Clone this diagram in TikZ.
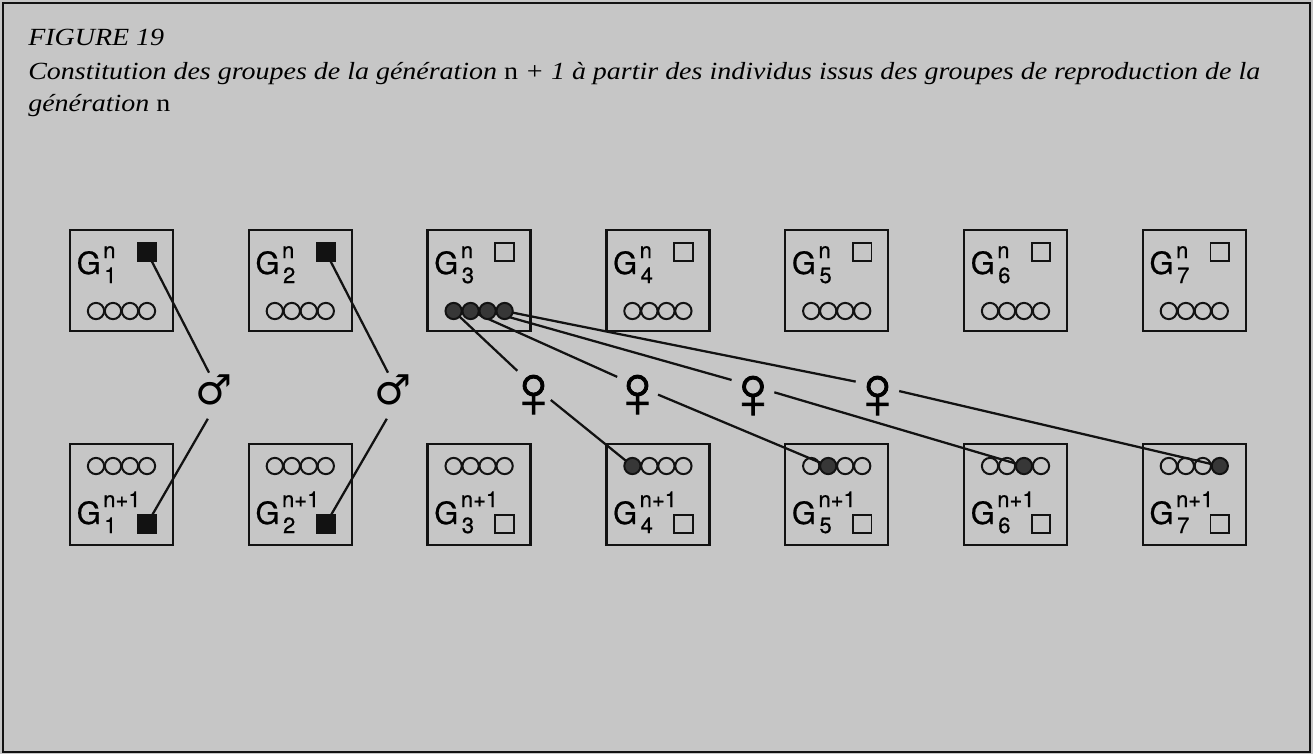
\documentclass[tikz,border=0pt]{standalone}
\usepackage{fontspec}
\newfontfamily\hvfont[FakeBold=0.6]{TeX Gyre Heros}
\newfontfamily\msymfont{DejaVu Sans}
\newfontfamily\fsymfont[FakeBold=1.2]{Liberation Sans}
\newfontfamily\ttlfont{Liberation Serif}
\usetikzlibrary{calc}
\pgfdeclarelayer{bgl}
\pgfdeclarelayer{lnl}
\pgfsetlayers{bgl,lnl,main}
\definecolor{paper}{RGB}{198,198,198}
\definecolor{ink}{RGB}{18,18,18}
\definecolor{dotfill}{RGB}{55,55,55}
\newcommand\titlef{\ttlfont\fontsize{18.5}{22}\selectfont\itshape}
\newlength\titlew
\tikzset{
  grp/.style={draw=ink, line width=1.9pt, minimum width=77.25pt, minimum height=75.75pt, inner sep=0pt},
  sqbox/.style={draw=ink, line width=1.4pt, minimum size=14pt, inner sep=0pt},
  ring/.style={circle, draw=ink, line width=1.5pt, minimum size=12.2pt, inner sep=0pt},
  fring/.style={ring, fill=dotfill},
  glab/.style={font=\hvfont\fontsize{23}{23}\selectfont, anchor=base west, inner sep=0pt},
  gidx/.style={font=\hvfont\fontsize{16.5}{16.5}\selectfont, anchor=base west, inner sep=0pt},
  msym/.style={font=\msymfont\fontsize{31}{31}\selectfont, inner sep=0pt},
  fsym/.style={font=\fsymfont\fontsize{56}{56}\selectfont, inner sep=0pt},
  fgap/.style={circle, minimum size=33pt, inner sep=0pt},
  mgap/.style={circle, minimum size=39pt, inner sep=0pt},
  link/.style={draw=ink, line width=1.7pt},
  ttl/.style={anchor=base west, inner sep=0pt, font=\titlef}
}
\begin{document}
\settowidth\titlew{\titlef Constitution des groupes de la génération \textup{n} + 1 à partir des individus issus des groupes de reproduction de la}
\pgfmathsetmacro\tsx{924/\titlew}
\begin{tikzpicture}[x=0.75pt, y=-0.75pt]
\useasboundingbox (0,0) rectangle (1313,754);
\begin{pgfonlayer}{bgl}
  \fill[paper] (0,0) rectangle (1313,754);
  \draw[ink, line width=1pt] (3,3) rectangle (1310,752);
\end{pgfonlayer}
% title
\node[ttl] (fig) at (28,45) {\scalebox{\tsx}[1]{FIGURE 19}};
\node[ttl] (cap1) at (28,79) {\scalebox{\tsx}[1]{Constitution des groupes de la génération \textup{n} + 1 à partir des individus issus des groupes de reproduction de la}};
\node[ttl] (cap2) at (28,111) {\scalebox{\tsx}[1]{génération \textup{n}}};
% groups
\foreach \i in {1,...,7}{
  \pgfmathsetmacro\xc{121.5+178.8*(\i-1)}
  \pgfmathtruncatemacro\fk{\i-3}
  % top group (generation n)
  \node[grp] (t\i) at (\xc,280.5) {};
  \ifnum\i<3
    \node[sqbox, fill=ink] (ts\i) at (\xc+25.5,252) {};
  \else
    \node[sqbox] (ts\i) at (\xc+25.5,252) {};
  \fi
  \node[glab] (tg\i) at (\xc-45,274) {G};
  \node[gidx] (tn\i) at (\xc-18.5,258) {n};
  \node[gidx] (ti\i) at (\xc-17.5,283) {\i};
  \foreach \k/\dx in {1/-25.5,2/-8.5,3/8.5,4/25.5}{
    \ifnum\i=3
      \node[fring] (tc\i\k) at (\xc+\dx,311) {};
    \else
      \node[ring] (tc\i\k) at (\xc+\dx,311) {};
    \fi
  }
  % bottom group (generation n+1)
  \node[grp] (b\i) at (\xc,494.5) {};
  \ifnum\i<3
    \node[sqbox, fill=ink] (bs\i) at (\xc+25.5,524) {};
  \else
    \node[sqbox] (bs\i) at (\xc+25.5,524) {};
  \fi
  \node[glab] (bg\i) at (\xc-45,524) {G};
  \node[gidx] (bn\i) at (\xc-18.5,507) {n+1};
  \node[gidx] (bi\i) at (\xc-17.5,533) {\i};
  \foreach \k/\dx in {1/-25.5,2/-8.5,3/8.5,4/25.5}{
    \ifnum\k=\fk
      \node[fring] (bc\i\k) at (\xc+\dx,466) {};
    \else
      \node[ring] (bc\i\k) at (\xc+\dx,466) {};
    \fi
  }
}
% sex symbols
\node[msym] (m1t) at (214,390) {♂};
\node[mgap] (m1) at (221,396) {};
\node[msym] (m2t) at (393,390) {♂};
\node[mgap] (m2) at (400,396) {};
\node[fsym] (f1t) at (533.5,396) {♀};
\node[fgap] (f1) at (533.5,386) {};
\node[fsym] (f2t) at (637.5,396) {♀};
\node[fgap] (f2) at (637.5,386) {};
\node[fsym] (f3t) at (753,397) {♀};
\node[fgap] (f3) at (753,386) {};
\node[fsym] (f4t) at (877.5,397) {♀};
\node[fgap] (f4) at (877.5,386) {};
% connectors
\begin{pgfonlayer}{lnl}
  \draw[link] (ts1.center) -- (m1);
  \draw[link] (m1) -- (bs1.center);
  \draw[link] (ts2.center) -- (m2);
  \draw[link] (m2) -- (bs2.center);
  \draw[link] (tc31.center) -- (f1);
  \draw[link] (f1) -- (bc41.center);
  \draw[link] (tc32.center) -- (f2);
  \draw[link] (f2) -- (bc52.center);
  \draw[link] (tc33.center) -- (f3);
  \draw[link] (f3) -- (bc63.center);
  \draw[link] (tc34.center) -- (f4);
  \draw[link] (f4) -- (bc74.center);
\end{pgfonlayer}
\end{tikzpicture}
\end{document}
